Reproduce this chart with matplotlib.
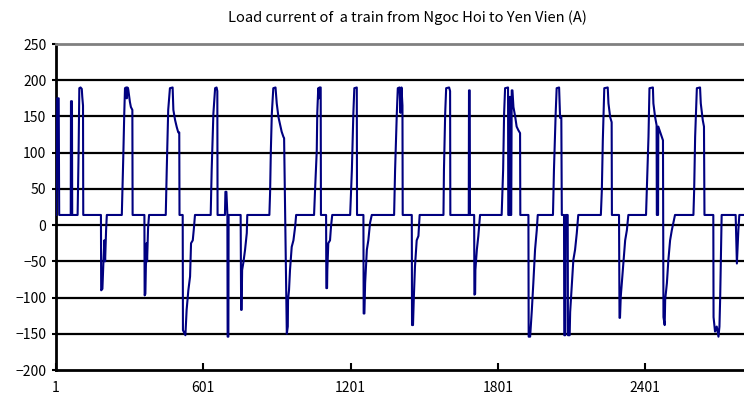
# load current of a train, Ngoc Hoi -> Yen Vien
import matplotlib
matplotlib.use("Agg")
import matplotlib.pyplot as plt

plt.rcParams['font.family'] = ['Noto Sans CJK JP', 'DejaVu Sans']

# sample index of each breakpoint
t = [1, 4, 6, 12, 14, 61, 62, 66, 67, 89, 93, 96, 101, 106, 108, 111, 112,
     184, 185, 190, 194, 198, 201, 205, 208,
     269, 275, 279, 282, 287, 289, 292, 295, 302, 306, 312, 313,
     361, 362, 365, 367, 370, 372, 376, 380,
     448, 452, 458, 465, 476, 479, 486, 493, 499, 503, 504,
     517, 518, 528, 533, 540, 547, 551, 558, 563, 567,
     631, 635, 642, 649, 655, 658, 659, 689, 691, 695, 699, 700, 703, 704,
     753, 755, 757, 759, 764, 771, 778, 780,
     870, 873, 876, 880, 886, 895, 900, 907, 913, 920, 927, 930,
     941, 945, 946, 950, 954, 961, 968, 975, 979,
     1052, 1056, 1063, 1065, 1069, 1072, 1074, 1079, 1080,
     1101, 1102, 1105, 1106, 1110, 1117, 1121, 1126,
     1199, 1206, 1212, 1216, 1226, 1227,
     1253, 1254, 1257, 1260, 1267, 1273, 1280, 1287,
     1378, 1382, 1389, 1393, 1400, 1404, 1408, 1412, 1413,
     1450, 1451, 1455, 1458, 1463, 1470, 1477, 1482,
     1579, 1581, 1586, 1590, 1602, 1606, 1607, 1682, 1683, 1686, 1687,
     1704, 1705, 1708, 1709, 1715, 1721, 1728,
     1816, 1822, 1826, 1830, 1842, 1843, 1847, 1849, 1851, 1853, 1855,
     1857, 1860, 1864, 1871, 1877, 1884, 1891, 1892,
     1925, 1926, 1932, 1939, 1945, 1952, 1959, 1963,
     2025, 2029, 2036, 2040, 2050, 2054, 2059, 2061,
     2070, 2071, 2075, 2077, 2085, 2086, 2093, 2095, 2102, 2108, 2115, 2122, 2128,
     2220, 2224, 2228, 2234, 2248, 2251, 2258, 2264, 2265,
     2294, 2296, 2298, 2301, 2312, 2319, 2326, 2332,
     2404, 2410, 2414, 2418, 2432, 2434, 2441, 2447, 2448, 2453, 2454,
     2461, 2468, 2473, 2475, 2480, 2482, 2489, 2495, 2502, 2509, 2522,
     2597, 2600, 2604, 2611, 2624, 2627, 2635, 2640, 2642,
     2678, 2679, 2685, 2692, 2699, 2703, 2706, 2712,
     2769, 2774, 2778, 2780, 2784, 2803]

# current (A) at those breakpoints
current = [14, 60, 175, 175, 14, 14, 171, 171, 14, 14, 100, 189, 190, 188, 177, 165, 14,
           14, -90, -88, -52, -21, -50, -7, 14,
           14, 94, 154, 189, 190, 175, 190, 188, 170, 163, 159, 14,
           14, -97, -95, -57, -25, -50, -4, 14,
           14, 76, 159, 189, 190, 159, 145, 135, 128, 128, 14,
           14, -145, -152, -117, -90, -71, -25, -21, -3, 14,
           14, 76, 154, 189, 190, 185, 14, 14, 46, 46, 14, -154, -154, 14,
           14, -117, -117, -62, -52, -34, -11, 14,
           14, 46, 103, 154, 189, 190, 168, 149, 140, 129, 122, 120,
           -150, -140, -103, -90, -62, -30, -21, -2, 14,
           14, 48, 103, 154, 189, 175, 190, 190, 14,
           14, -87, -87, -62, -25, -21, -2, 14,
           14, 76, 154, 189, 190, 14,
           14, -122, -122, -80, -34, -21, 3, 14,
           14, 76, 154, 189, 190, 155, 190, 165, 14,
           14, -138, -138, -103, -57, -21, -15, 14,
           14, 76, 154, 189, 190, 185, 14, 14, 186, 186, 14,
           14, -96, -95, -62, -34, -15, 14,
           14, 76, 154, 189, 190, 14, 14, 177, 177, 14, 14,
           186, 186, 163, 150, 136, 131, 127, 14,
           14, -154, -154, -117, -80, -34, -7, 14,
           14, 76, 154, 189, 190, 148, 150, 14,
           14, -152, -152, 14, 14, -152, -152, -120, -80, -48, -34, -11, 14,
           14, 48, 117, 189, 190, 168, 149, 142, 14,
           14, -128, -128, -99, -52, -21, -7, 14,
           14, 76, 122, 189, 190, 168, 149, 138, 14, 14, 136,
           129, 122, 117, -127, -138, -103, -80, -48, -21, -7, 14,
           14, 48, 122, 189, 190, 168, 145, 136, 14,
           14, -127, -147, -140, -154, -140, -100, 14,
           14, -53, -21, -7, 14, 14]

x_ticks = [1, 601, 1201, 1801, 2401]
y_ticks = [-200, -150, -100, -50, 0, 50, 100, 150, 200, 250]

fig = plt.figure(figsize=(7.44, 3.99), dpi=100)
ax = fig.add_axes([56 / 744, 1 - 370 / 399, 1 - 56 / 744, (370 - 44) / 399])

ax.plot(t, current, color="#000080", linewidth=1.5, zorder=3)

ax.set_xlim(1, 2803)
ax.set_ylim(-200, 250)
ax.set_xticks(x_ticks)
ax.set_yticks(y_ticks)
ax.tick_params(axis='x', direction='in', length=5, width=1.5, labelsize=10, pad=8)
ax.tick_params(axis='y', direction='out', length=3, width=1.5, labelsize=10, pad=4)

# horizontal gridlines (black), top border grey
for v in y_ticks[1:-1]:
    ax.axhline(v, color='black', linewidth=1.6, zorder=1)
ax.spines['top'].set_color('#808080')
ax.spines['top'].set_linewidth(2)
ax.spines['right'].set_visible(False)
ax.spines['left'].set_linewidth(2)
ax.spines['bottom'].set_linewidth(2)

fig.text(407 / 744, 1 - 18 / 399, "Load current of  a train from Ngoc Hoi to Yen Vien (A)",
         ha='center', va='center', fontsize=10.6)

fig.savefig("out.png", dpi=100)
